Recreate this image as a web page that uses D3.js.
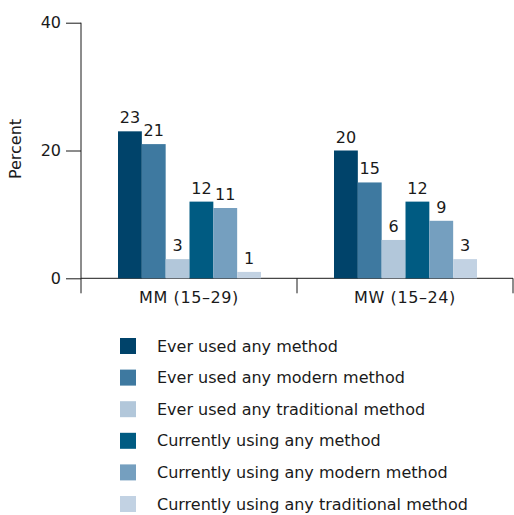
<!DOCTYPE html>
<html>
<head>
<meta charset="utf-8">
<script src="https://cdn.jsdelivr.net/npm/d3@7"></script>
<style>
  body { margin: 0; background: #fff; }
  text { font-family: "DejaVu Sans", sans-serif; fill: #1a1a1a; }
</style>
</head>
<body>
<svg width="514" height="515"></svg>
<script>
// data
var groups = ["MM (15\u201329)", "MW (15\u201324)"];
var series = ["Ever used any method", "Ever used any modern method", "Ever used any traditional method",
              "Currently using any method", "Currently using any modern method", "Currently using any traditional method"];
var mmValues = [23, 21, 3, 12, 11, 1];
var mwValues = [20, 15, 6, 12, 9, 3];
var yTicks = [0, 20, 40];
var colors = ["#00436a", "#3e79a0", "#b2c7da", "#005b82", "#759fbf", "#c2d2e3"];

var svg = d3.select("svg");
var plotLeft = 81, plotRight = 513, plotTop = 22.7, plotBottom = 278.3;

var rows = groups.map(function(g, i) { return { group: g, values: i == 0 ? mmValues : mwValues }; });

var x0 = d3.scaleBand().domain(groups).range([plotLeft, plotRight]);
var x1 = d3.scaleBand().domain(d3.range(series.length)).range([37, 180]);
var y = d3.scaleLinear().domain([0, 40]).range([plotBottom, plotTop]);
var color = d3.scaleOrdinal().domain(series).range(colors);

// y axis
var yAxis = svg.append("g").attr("transform", "translate(" + plotLeft + ",0)")
  .call(d3.axisLeft(y).tickValues(yTicks).tickSize(15).tickPadding(5));
yAxis.select(".domain").attr("d", "M0," + plotTop + "V" + (plotBottom + 15));
yAxis.selectAll("text").style("font-size", "16px").style("font-family", "DejaVu Sans").attr("fill", "#1a1a1a");
yAxis.selectAll("line, path").attr("stroke", "#1a1a1a");

// x axis line + group separators
svg.append("line").attr("x1", plotLeft).attr("x2", plotRight).attr("y1", plotBottom).attr("y2", plotBottom).attr("stroke", "#1a1a1a");
groups.forEach(function(g) {
  var xe = x0(g) + x0.bandwidth();
  svg.append("line").attr("x1", xe).attr("x2", xe).attr("y1", plotBottom).attr("y2", plotBottom + 15).attr("stroke", "#1a1a1a");
});
svg.selectAll(".glabel").data(groups).enter().append("text")
  .attr("x", function(d) { return x0(d) + x0.bandwidth() / 2; })
  .attr("y", plotBottom + 25)
  .attr("text-anchor", "middle").style("font-size", "16px").style("letter-spacing", "0.6px")
  .text(function(d) { return d; });

svg.append("text").attr("transform", "translate(21,149) rotate(-90)")
  .attr("text-anchor", "middle").style("font-size", "16px").text("Percent");

// bars
var gg = svg.selectAll(".grp").data(rows).enter().append("g")
  .attr("transform", function(d) { return "translate(" + x0(d.group) + ",0)"; });

gg.selectAll("rect").data(function(d) { return d.values; }).enter().append("rect")
  .attr("x", function(d, i) { return x1(i); })
  .attr("width", x1.bandwidth())
  .attr("y", function(d) { return y(d); })
  .attr("height", function(d) { return plotBottom - y(d); })
  .attr("fill", function(d, i) { return colors[i]; });

gg.selectAll(".val").data(function(d) { return d.values; }).enter().append("text")
  .attr("x", function(d, i) { return x1(i) + x1.bandwidth() / 2; })
  .attr("y", function(d) { return y(d) - 8; })
  .attr("text-anchor", "middle").style("font-size", "16px")
  .text(function(d) { return d; });

// legend
var leg = svg.selectAll(".leg").data(series).enter().append("g")
  .attr("transform", function(d, i) { return "translate(120," + (338 + i * 31.6) + ")"; });
leg.append("rect").attr("width", 16).attr("height", 16).attr("fill", function(d) { return color(d); });
leg.append("text").attr("x", 37).attr("y", 13.5).style("font-size", "16px").text(function(d) { return d; });
</script>
</body>
</html>
